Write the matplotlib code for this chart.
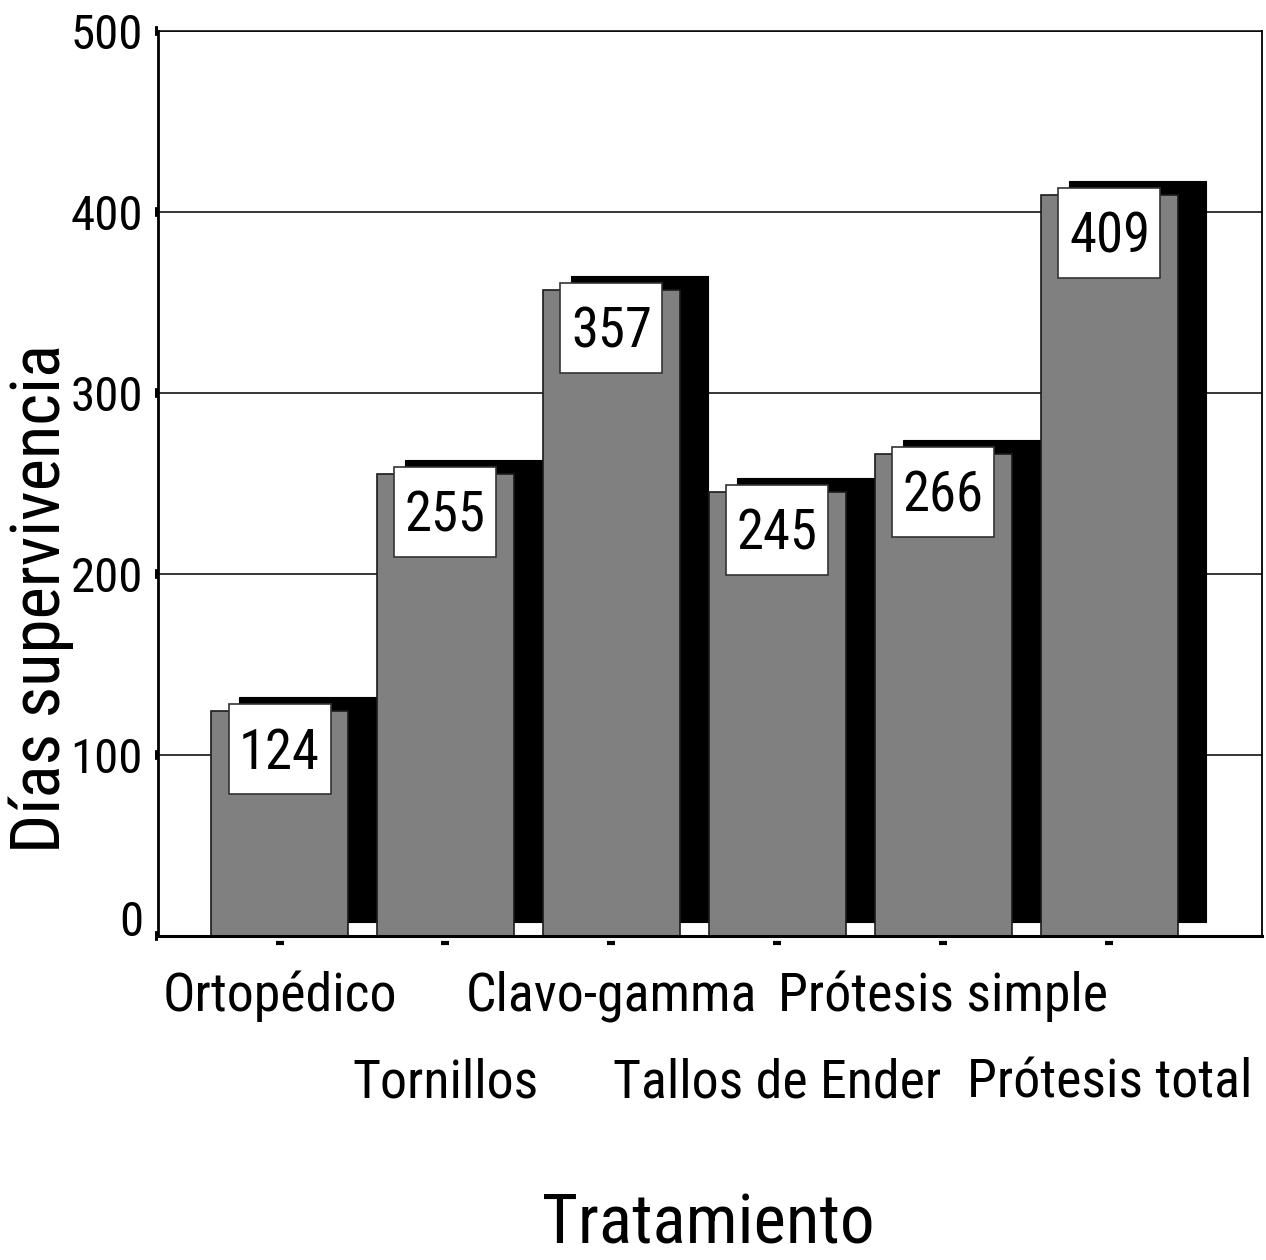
import matplotlib
matplotlib.use('Agg')
import matplotlib.pyplot as plt
from matplotlib import font_manager
from matplotlib.font_manager import FontProperties
from matplotlib.textpath import TextPath
from matplotlib.transforms import ScaledTranslation, blended_transform_factory
from matplotlib.patches import Rectangle
import numpy as np

# ---- data ----
categories = ['Ortopédico', 'Tornillos', 'Clavo-gamma', 'Tallos de Ender',
              'Prótesis simple', 'Prótesis total']
values = [124, 255, 357, 245, 266, 409]
yticks = [0, 100, 200, 300, 400, 500]
ytick_labels = ['0', '100', '200', '300', '400', '500']
xlabel = 'Tratamiento'
ylabel = 'Días supervivencia'

# ---- pick a condensed sans font if one is installed ----
def _is_condensed(f):
    st = f.stretch
    if isinstance(st, str):
        return 'condensed' in st.lower() or 'narrow' in st.lower()
    try:
        return int(st) < 500
    except Exception:
        return False

pref = ['Liberation Sans Narrow', 'Arial Narrow', 'Roboto Condensed', 'Roboto',
        'Open Sans Condensed', 'Open Sans', 'DejaVu Sans Condensed', 'DejaVu Sans',
        'Noto Sans', 'Lato', 'Inter']
cands = []
for f in font_manager.fontManager.ttflist:
    n = f.name
    if 'Mono' in n or 'Serif' in n or 'CJK' in n:
        continue
    if f.style != 'normal':
        continue
    if _is_condensed(f) or 'Narrow' in n or 'Condensed' in n:
        cands.append(f)

def _rank(f):
    for i, p in enumerate(pref):
        if f.name == p:
            return i
    return len(pref)

FONT = dict(family='Liberation Sans', stretch='normal')
if cands:
    cands.sort(key=lambda f: (_rank(f), abs((f.weight if isinstance(f.weight, int) else 400) - 400)))
    best = cands[0]
    FONT = dict(family=best.name, stretch=best.stretch)
plt.rcParams['font.family'] = [FONT['family'], 'DejaVu Sans']
plt.rcParams['font.stretch'] = FONT['stretch']

W, H, DPI = 1266, 1260, 100
PX = 72.0 / DPI  # points per pixel
_fp = FontProperties(family=FONT['family'], stretch=FONT['stretch'])
_cap100 = TextPath((0, 0), 'H', size=100, prop=_fp).get_extents().height


def fit_size(s, target_w, target_cap, max_w):
    w100 = TextPath((0, 0), s, size=100, prop=_fp).get_extents().width
    s_w = target_w * PX * 100.0 / w100
    s_h = target_cap * PX * 100.0 / _cap100
    size = np.sqrt(s_w * s_h)
    s_max = max_w * PX * 100.0 / w100
    return float(min(size, s_max))


TICK_FS = fit_size('100', 63, 45, 66)
VAL_FS = fit_size('124', 62, 47, 80)
CAT_FS = min(fit_size('Ortopédico', 192, 47, 260),
             fit_size('Prótesis simple', 268, 47, 324),
             fit_size('Prótesis total', 232, 47, 284))
YL_FS = fit_size(ylabel, 455, 60, 500)
XL_FS = fit_size(xlabel, 268, 60, 330)
cap_val = _cap100 * VAL_FS / 100.0 / PX  # px

fig = plt.figure(figsize=(W / DPI, H / DPI), dpi=DPI)
fig.patch.set_facecolor('white')
ax = fig.add_axes([158 / W, 1 - 936 / H, (1262 - 158) / W, (936 - 30.7) / H])

x = np.arange(len(categories))
bar_w = 137 / 166

ax.set_xlim(-0.732, 5.919)
ax.set_ylim(0, 500)

# shadows (offset right / up)
shadow_tr = ax.transData + ScaledTranslation(28 / DPI, 14 / DPI, fig.dpi_scale_trans)
ax.bar(x, values, width=bar_w, color='black', edgecolor='black', linewidth=0.8,
       transform=shadow_tr, zorder=2)
# main bars
ax.bar(x, values, width=bar_w, color='#808080', edgecolor='#1a1a1a', linewidth=1.2,
       zorder=3)

# value boxes
for xi, v in zip(x, values):
    tr = fig.dpi_scale_trans + ScaledTranslation(xi, v, ax.transData)
    rect = Rectangle((-0.51, -0.83), 1.02, 0.90, transform=tr, facecolor='white',
                     edgecolor='#333333', linewidth=1.2, zorder=4, clip_on=False)
    ax.add_patch(rect)
    ax.text(0, -0.38 - cap_val / 2 / DPI, str(v), transform=tr, ha='center', va='baseline',
            fontsize=VAL_FS, color='black', zorder=5)

# y axis, gridlines
ax.set_yticks(yticks)
ax.set_yticklabels(ytick_labels, fontsize=TICK_FS)
ax.grid(axis='y', color='black', linewidth=1.1)
ax.set_axisbelow(True)
ax.tick_params(axis='y', direction='out', length=2.2, width=7, pad=8.6, colors='black')
ax.yaxis.get_major_ticks()[0].label1.set_va('baseline')

# x axis: detached dash marks + staggered labels
ax.set_xticks([])
btr = blended_transform_factory(ax.transData, ax.transAxes)
ax.plot(x, np.zeros(len(x)), linestyle='none', marker='_', markersize=6,
        markeredgewidth=3, color='black', clip_on=False,
        transform=btr + ScaledTranslation(0, -7 / DPI, fig.dpi_scale_trans), zorder=6)

for i, (xi, cat) in enumerate(zip(x, categories)):
    off = 75 if i % 2 == 0 else 162
    ax.text(xi, 0, cat, transform=btr + ScaledTranslation(0, -off / DPI, fig.dpi_scale_trans),
            ha='center', va='baseline', fontsize=CAT_FS, color='black', clip_on=False)

# spines
ax.spines['left'].set_linewidth(2.0)
ax.spines['bottom'].set_linewidth(2.2)
ax.spines['top'].set_linewidth(1.1)
ax.spines['right'].set_linewidth(1.3)
for s in ax.spines.values():
    s.set_color('black')
    s.set_zorder(7)

# axis titles
fig.text(60 / W, 1 - 598 / H, ylabel, rotation=90, rotation_mode='anchor',
         ha='center', va='baseline', fontsize=YL_FS, color='black')
fig.text(708 / W, 16 / H, xlabel, ha='center', va='baseline', fontsize=XL_FS, color='black')

fig.savefig('out.png', dpi=DPI, facecolor='white')
